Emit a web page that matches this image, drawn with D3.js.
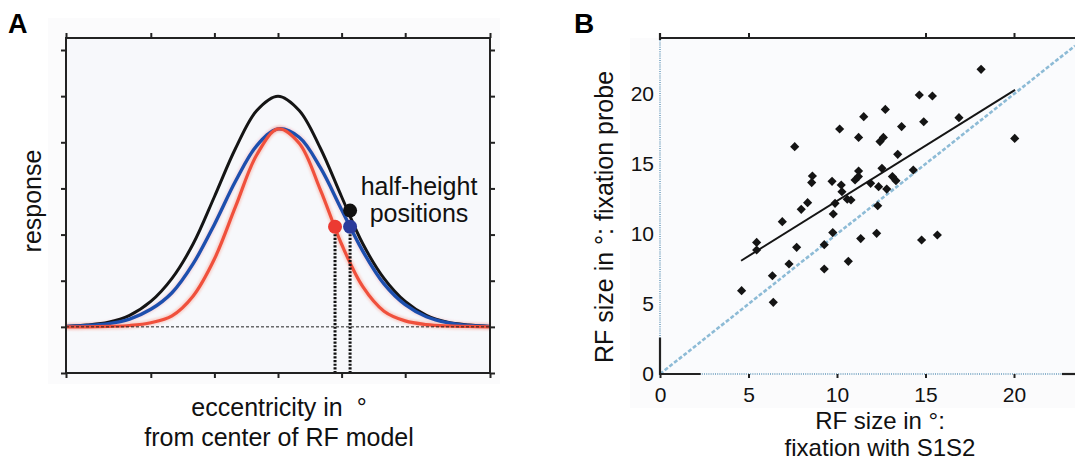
<!DOCTYPE html>
<html>
<head>
<meta charset="utf-8">
<script src="https://cdn.jsdelivr.net/npm/d3@7"></script>
<style>
body { margin: 0; background: #fff; }
svg { display: block; font-family: "Liberation Sans", Arial, Helvetica, sans-serif; }
</style>
</head>
<body>
<svg id="chart" width="1075" height="463"></svg>
<script>
// panel A: model response profiles
var ecc = [-10,-9,-8,-7,-6,-5,-4,-3,-2,-1,0,1,2,3,4,5,6,7,8,9,10];
var respBlack = [0.01,0.04,0.10,0.25,0.55,1.05,1.80,2.82,3.87,4.69,5.00,4.69,3.87,2.82,1.80,1.05,0.55,0.25,0.10,0.04,0.01];
var respBlue  = [0.01,0.03,0.07,0.17,0.38,0.74,1.37,2.22,3.16,3.93,4.29,4.11,3.45,2.54,1.64,0.93,0.48,0.22,0.09,0.03,0.01];
var respRed   = [0.00,0.00,0.01,0.03,0.09,0.24,0.67,1.47,2.61,3.73,4.29,3.98,2.97,1.79,0.87,0.34,0.13,0.05,0.02,0.01,0.00];
var halfNames = ["black","blue","red"];
var halfX = [3.40, 3.40, 2.69];
var halfY = [2.52, 2.17, 2.17];
var eccTicks = [-10,-6,-3,0,3,6,10];
var respTicks = [-1,0,1,2,3,4,5,6];

// panel B: RF sizes, fixation with S1S2 (x) vs fixation probe (y)
var sizeS1S2  = [4.61,5.46,5.46,6.40,6.35,6.91,7.29,7.72,7.61,7.98,8.34,8.61,8.57,9.28,9.28,9.72,9.79,9.76,9.89,10.15,10.24,10.28,10.64,10.58,10.79,11.02,11.21,11.22,11.22,11.34,11.51,11.90,12.24,12.30,12.35,12.43,12.54,12.62,12.73,12.81,13.13,13.33,13.43,13.65,14.31,14.65,14.78,14.90,15.39,15.67,16.89,18.14,20.04];
var sizeProbe = [5.95,9.40,8.86,5.12,7.02,10.88,7.86,9.05,16.24,11.76,12.24,14.14,13.67,7.50,9.24,13.76,11.43,10.10,12.19,17.50,13.50,13.02,8.05,12.48,12.43,13.86,14.10,16.90,14.50,9.67,18.38,13.62,10.05,12.02,13.38,16.60,14.69,16.90,18.90,13.21,14.10,13.81,15.69,17.67,14.57,19.93,9.57,18.02,19.86,9.93,18.31,21.76,16.83];
var fitX = [4.58, 20.06];
var fitY = [8.09, 20.29];
var sizeTicks = [0,5,10,15,20];
var topTicksB = [5,15,20];

var svg = d3.select("#chart");
var defs = svg.append("defs");
defs.append("filter").attr("id","soft").attr("x","-5%").attr("y","-5%").attr("width","110%").attr("height","110%")
    .append("feGaussianBlur").attr("stdDeviation", 1.2);

/* ---------- panel A ---------- */
var xA = d3.scaleLinear().domain([-10,10]).range([66,490]);
var yA = d3.scaleLinear().domain([-1,6]).range([373,50]);

svg.append("rect").attr("x",48).attr("y",18).attr("width",452).attr("height",366).attr("fill","#fbfbfc");
svg.append("rect").attr("x",66).attr("y",38).attr("width",424).attr("height",335).attr("fill","#f7f8fb");

var lineA = d3.line()
    .x(function(d){ return xA(d[0]); })
    .y(function(d){ return yA(d[1]); })
    .curve(d3.curveCatmullRom);

function pairs(ys){ return ecc.map(function(v,i){ return [v, ys[i]]; }); }

var gA = svg.append("g");
// faint halos behind the curves
gA.append("path").attr("d", lineA(pairs(respBlue))).attr("fill","none")
    .attr("stroke","#f0b8c4").attr("stroke-width",6).attr("opacity",0.45).attr("filter","url(#soft)");
gA.append("path").attr("d", lineA(pairs(respRed))).attr("fill","none")
    .attr("stroke","#f7a494").attr("stroke-width",6.5).attr("opacity",0.45).attr("filter","url(#soft)");

gA.append("path").attr("d", lineA(pairs(respBlack))).attr("fill","none")
    .attr("stroke","#151515").attr("stroke-width",3);
gA.append("path").attr("d", lineA(pairs(respBlue))).attr("fill","none")
    .attr("stroke","#1d4fae").attr("stroke-width",3.4);
gA.append("path").attr("d", lineA(pairs(respRed))).attr("fill","none")
    .attr("stroke","#f0503c").attr("stroke-width",3.2);

// zero line
gA.append("line").attr("x1",xA(-10)).attr("x2",xA(10)).attr("y1",yA(0)).attr("y2",yA(0))
    .attr("stroke","#222").attr("stroke-width",1).attr("stroke-dasharray","3,2");

// dotted drop lines from the half-height points
var dropX = [halfX[2], halfX[1]];
var dropY = [halfY[2], halfY[1]];
gA.selectAll(".drop").data(dropX).enter().append("line")
    .attr("class","drop")
    .attr("x1", function(d){ return xA(d); }).attr("x2", function(d){ return xA(d); })
    .attr("y1", function(d,i){ return yA(dropY[i]); }).attr("y2", yA(-1))
    .attr("stroke","#111").attr("stroke-width",3).attr("stroke-dasharray","2.2,1.5");

var dotColor = { black: "#111111", blue: "#2a3b9c", red: "#ec3a32" };
gA.selectAll(".half").data(halfNames).enter().append("circle")
    .attr("class","half")
    .attr("cx", function(d,i){ return xA(halfX[i]); })
    .attr("cy", function(d,i){ return yA(halfY[i]); })
    .attr("r", 7)
    .attr("fill", function(d){ return dotColor[d]; });

// frame + ticks
svg.append("rect").attr("x",66).attr("y",38).attr("width",424).attr("height",335)
    .attr("fill","none").attr("stroke","#222").attr("stroke-width",2);
function noDomain(g){ g.select(".domain").remove(); g.selectAll("line").attr("stroke","#222").attr("stroke-width",2); g.selectAll("text").remove(); }
svg.append("g").attr("transform","translate(0,38)").call(d3.axisTop(xA).tickValues(eccTicks).tickSize(5)).call(noDomain);
svg.append("g").attr("transform","translate(0,373)").call(d3.axisBottom(xA).tickValues(eccTicks).tickSize(5)).call(noDomain);
svg.append("g").attr("transform","translate(66,0)").call(d3.axisLeft(yA).tickValues(respTicks).tickSize(5)).call(noDomain);
svg.append("g").attr("transform","translate(490,0)").call(d3.axisRight(yA).tickValues(respTicks).tickSize(5)).call(noDomain);

svg.append("text").attr("x",8).attr("y",33).attr("font-size",27).attr("font-weight","bold").text("A");
svg.append("text").attr("transform","translate(41,201) rotate(-90)").attr("text-anchor","middle")
    .attr("font-size",25).attr("fill","#111").text("response");
svg.append("text").attr("x",419).attr("y",195).attr("text-anchor","middle").attr("font-size",25).attr("fill","#111").text("half-height");
svg.append("text").attr("x",419).attr("y",222).attr("text-anchor","middle").attr("font-size",25).attr("fill","#111").text("positions");
svg.append("text").attr("x",279).attr("y",416).attr("text-anchor","middle").attr("font-size",25).attr("fill","#111")
    .attr("xml:space","preserve").text("eccentricity in  \u00b0");
svg.append("text").attr("x",279).attr("y",446).attr("text-anchor","middle").attr("font-size",25).attr("fill","#111").text("from center of RF model");

/* ---------- panel B ---------- */
var xB = d3.scaleLinear().domain([0,20]).range([660,1014]);
var yB = d3.scaleLinear().domain([0,20]).range([374,94]);
var xMaxB = xB.invert(1075);

svg.append("rect").attr("x",630).attr("y",38).attr("width",445).attr("height",370).attr("fill","#fbfbfc");
svg.append("rect").attr("x",660).attr("y",38).attr("width",415).attr("height",336).attr("fill","#fafbfd");

var gB = svg.append("g");
// identity line
gB.append("line").attr("x1",xB(0)).attr("y1",yB(0)).attr("x2",xB(xMaxB)).attr("y2",yB(xMaxB))
    .attr("stroke","#8dbbd6").attr("stroke-width",2.6).attr("stroke-dasharray","4,2");

// dotted axis lines with solid stubs near the corners
gB.append("line").attr("x1",660).attr("x2",660).attr("y1",38).attr("y2",374)
    .attr("stroke","#8db3cc").attr("stroke-width",2).attr("stroke-dasharray","1,1.2");
gB.append("line").attr("x1",660).attr("x2",1075).attr("y1",374).attr("y2",374)
    .attr("stroke","#8db3cc").attr("stroke-width",2).attr("stroke-dasharray","1,1.2");
gB.append("line").attr("x1",660).attr("x2",660).attr("y1",yB(2.6)).attr("y2",375)
    .attr("stroke","#222").attr("stroke-width",2.2);
gB.append("line").attr("x1",659).attr("x2",xB(2.3)).attr("y1",374).attr("y2",374)
    .attr("stroke","#222").attr("stroke-width",2.2);
gB.append("line").attr("x1",1062).attr("x2",1075).attr("y1",374).attr("y2",374)
    .attr("stroke","#222").attr("stroke-width",2.2);
gB.append("line").attr("x1",659).attr("x2",1075).attr("y1",38).attr("y2",38)
    .attr("stroke","#222").attr("stroke-width",2.2);
gB.append("line").attr("x1",660).attr("x2",660).attr("y1",33).attr("y2",40)
    .attr("stroke","#222").attr("stroke-width",2.2);

// fit line
gB.append("line").attr("x1",xB(fitX[0])).attr("y1",yB(fitY[0])).attr("x2",xB(fitX[1])).attr("y2",yB(fitY[1]))
    .attr("stroke","#151515").attr("stroke-width",2);

var diamond = d3.symbol().type(d3.symbolSquare).size(42);
gB.selectAll(".pt").data(sizeS1S2).enter().append("path")
    .attr("class","pt")
    .attr("d", diamond)
    .attr("transform", function(d,i){ return "translate(" + xB(d) + "," + yB(sizeProbe[i]) + ") rotate(45)"; })
    .attr("fill","#141414");

svg.append("g").attr("transform","translate(0,38)")
    .call(d3.axisTop(xB).tickValues(topTicksB).tickSize(5)).call(noDomain);

var axB = svg.append("g").attr("transform","translate(0,374)")
    .call(d3.axisBottom(xB).tickValues(sizeTicks).tickSize(4).tickPadding(9));
axB.select(".domain").remove();
axB.selectAll("line").attr("stroke","#222").attr("stroke-width",2);
axB.selectAll("text").attr("font-size",21).attr("fill","#111").attr("font-family","inherit");

var ayB = svg.append("g").attr("transform","translate(660,0)")
    .call(d3.axisLeft(yB).tickValues(sizeTicks).tickSize(0).tickPadding(6));
ayB.select(".domain").remove();
ayB.selectAll("text").attr("font-size",21).attr("fill","#111").attr("font-family","inherit");

svg.append("text").attr("x",574).attr("y",33).attr("font-size",28).attr("font-weight","bold").text("B");
svg.append("text").attr("transform","translate(613,217) rotate(-90)").attr("text-anchor","middle")
    .attr("font-size",25).attr("fill","#111").text("RF size in \u00b0: fixation probe");
svg.append("text").attr("x",880).attr("y",429).attr("text-anchor","middle").attr("font-size",24).attr("fill","#111").text("RF size in \u00b0:");
svg.append("text").attr("x",880).attr("y",456).attr("text-anchor","middle").attr("font-size",24).attr("fill","#111").text("fixation with S1S2");
</script>
</body>
</html>
